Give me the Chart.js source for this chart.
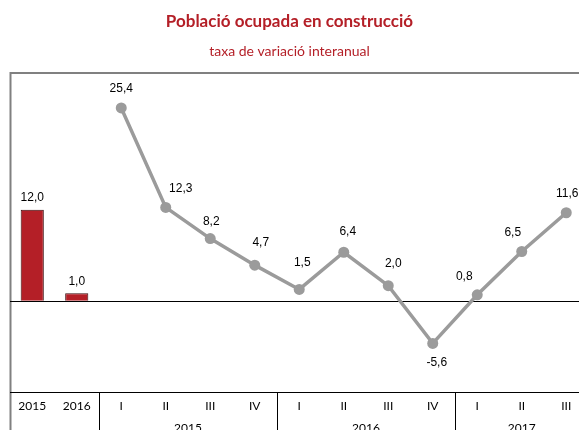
<!DOCTYPE html>
<html>
<head>
<meta charset="utf-8">
<script src="https://cdn.jsdelivr.net/npm/chart.js@4"></script>
<style>
  html, body { margin: 0; padding: 0; background: #fff; overflow: hidden; }
  #wrap { width: 579px; height: 430px; overflow: hidden; }
  #wrap div { width: 600px; height: 430px; }
</style>
</head>
<body>
<div id="wrap"><div><canvas id="chart"></canvas></div></div>
<script>
// categories on the x axis
const quarters = ['2015', '2016', 'I', 'II', 'III', 'IV', 'I', 'II', 'III', 'IV', 'I', 'II', 'III'];
// year groups under the quarters: [label, first index, last index]
const yearGroups = [['2015', 2, 5], ['2016', 6, 9], ['2017', 10, 12]];
// annual rates (bars) and quarterly rates (line)
const annualValues = [12.0, 1.0, null, null, null, null, null, null, null, null, null, null, null];
const quarterValues = [null, null, 25.4, 12.3, 8.2, 4.7, 1.5, 6.4, 2.0, -5.6, 0.8, 6.5, 11.6];

const titleText = 'Població ocupada en construcció';
const subtitleText = 'taxa de variació interanual';

const red = '#b41f27';
const grey = '#9b9b9b';
const fmt = v => v.toFixed(1).replace('.', ',');

// small nudges for the line labels, like the original
const labelDx = [0, 0, 0, 15, 1, 6, 3, 4, 5, 4, -13, -9, 1];
const labelDy = [0, 0, -19, -19, -17, -22, -27, -21, -22, 19, -18, -19, -19];

const decor = {
  id: 'decor',
  beforeDatasetsDraw(chart) {
    const { ctx, chartArea: a, scales: { x, y } } = chart;
    ctx.save();
    // frame
    ctx.strokeStyle = '#808080';
    ctx.lineWidth = 2;
    ctx.beginPath();
    ctx.moveTo(10.5, 430);
    ctx.lineTo(10.5, a.top);
    ctx.lineTo(chart.width, a.top);
    ctx.stroke();
    // zero line and axis line
    ctx.strokeStyle = '#000';
    ctx.lineWidth = 1;
    const y0 = Math.round(y.getPixelForValue(0)) + 0.5;
    ctx.beginPath();
    ctx.moveTo(a.left, y0);
    ctx.lineTo(chart.width, y0);
    ctx.moveTo(a.left, a.bottom + 0.5);
    ctx.lineTo(chart.width, a.bottom + 0.5);
    ctx.stroke();
    // group separators
    const half = (x.getPixelForValue(1) - x.getPixelForValue(0)) / 2;
    ctx.beginPath();
    yearGroups.forEach(g => {
      const sx = Math.round(x.getPixelForValue(g[1]) - half) + 0.5;
      ctx.moveTo(sx, a.bottom);
      ctx.lineTo(sx, 430);
    });
    ctx.stroke();
    ctx.restore();
  },
  afterDraw(chart) {
    const { ctx, chartArea: a, scales: { x } } = chart;
    ctx.save();
    ctx.textAlign = 'center';
    ctx.textBaseline = 'middle';
    // titles
    ctx.fillStyle = red;
    ctx.font = 'bold 17px Lato';
    ctx.fillText(titleText, 289.5, 22);
    ctx.font = '14px Lato';
    ctx.fillText(subtitleText, 289.5, 51);
    // category labels
    ctx.fillStyle = '#000';
    ctx.font = '12px Lato';
    quarters.forEach((q, i) => ctx.fillText(q, x.getPixelForValue(i), a.bottom + 14));
    yearGroups.forEach(g => {
      const cx = (x.getPixelForValue(g[1]) + x.getPixelForValue(g[2])) / 2;
      ctx.fillText(g[0], cx, a.bottom + 36);
    });
    // value labels
    ctx.font = '12px "Liberation Sans", Arial';
    chart.getDatasetMeta(0).data.forEach((el, i) => {
      const v = annualValues[i];
      if (v === null) return;
      ctx.fillText(fmt(v), el.x, el.y - 12);
    });
    chart.getDatasetMeta(1).data.forEach((el, i) => {
      const v = quarterValues[i];
      if (v === null) return;
      ctx.fillText(fmt(v), el.x + labelDx[i], el.y + labelDy[i]);
    });
    ctx.restore();
  }
};

new Chart(document.getElementById('chart'), {
  data: {
    labels: quarters,
    datasets: [
      {
        type: 'bar',
        data: annualValues,
        backgroundColor: red,
        borderColor: '#3a0a0c',
        borderWidth: 1,
        categoryPercentage: 1,
        barPercentage: 0.52,
        order: 2
      },
      {
        type: 'line',
        data: quarterValues,
        borderColor: grey,
        borderWidth: 3.5,
        pointRadius: 5.5,
        pointBackgroundColor: grey,
        pointBorderColor: grey,
        pointBorderWidth: 0,
        tension: 0,
        order: 1
      }
    ]
  },
  options: {
    responsive: true,
    maintainAspectRatio: false,
    animation: false,
    layout: { padding: { left: 10, right: 11.5, top: 73, bottom: 38 } },
    plugins: { legend: { display: false }, tooltip: { enabled: false } },
    scales: {
      x: { display: false, offset: true },
      y: { display: false, min: -12, max: 30 }
    }
  },
  plugins: [decor]
});
</script>
</body>
</html>
